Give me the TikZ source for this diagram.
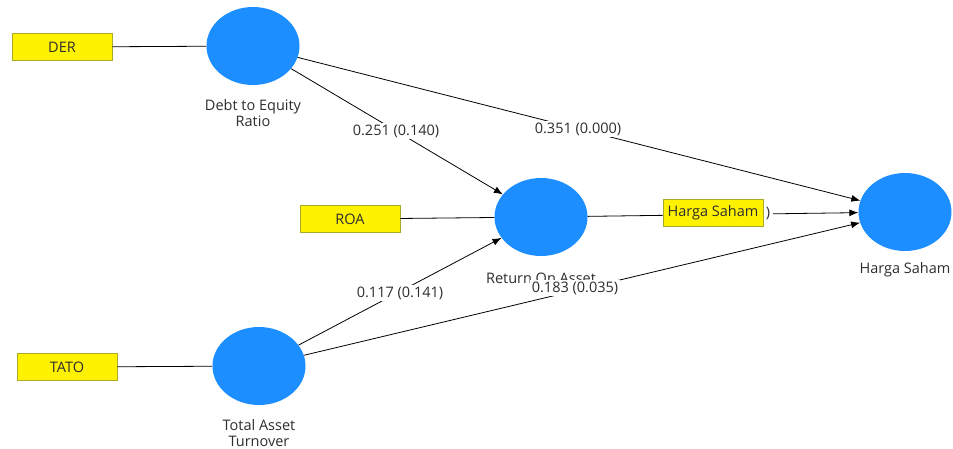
\documentclass[tikz,border=0pt]{standalone}
\usepackage{fontspec}
\setmainfont{Open Sans}
\usetikzlibrary{shapes.geometric,arrows.meta}
\definecolor{lvblue}{RGB}{28,142,255}
\definecolor{boxedge}{RGB}{170,170,40}
\definecolor{txt}{RGB}{45,45,45}
\tikzset{
  lv/.style={ellipse,fill=lvblue,draw=none,minimum width=93pt,minimum height=78pt,inner sep=0pt},
  ind/.style={rectangle,fill=yellow,draw=boxedge,line width=0.6pt,minimum width=100pt,minimum height=27pt,inner sep=0pt,font=\fontsize{14.5}{16}\selectfont,text=txt},
  captxt/.style={align=center,font=\fontsize{14.5}{15.5}\selectfont,text=txt,inner sep=1pt},
  coef/.style={fill=white,font=\fontsize{14.5}{16}\selectfont,text=txt,inner sep=1.5pt},
  arr/.style={-{Latex[length=9pt,width=7pt]},line width=0.8pt,black},
  lnk/.style={line width=0.8pt,black}
}
\begin{document}
\begin{tikzpicture}[x=1pt,y=-1pt]
\useasboundingbox (0,0) rectangle (953,448);
% latent variables
\node[lv] (der) at (253,46) {};
\node[lv] (roa) at (541,217) {};
\node[lv] (tato) at (259,366) {};
\node[lv] (hs) at (905,212) {};
% indicators
\node[ind] (derI) at (62,47) {DER};
\node[ind] (roaI) at (350,219) {ROA};
\node[ind] (tatoI) at (67,367) {TATO};
% indicator links
\draw[lnk] (derI) -- (der);
\draw[lnk] (roaI) -- (roa);
\draw[lnk] (tatoI) -- (tato);
% structural paths
\draw[arr] (der) -- (roa);
\draw[arr] (der) -- (hs);
\draw[arr] (tato) -- (roa);
\draw[arr] (tato) -- (hs);
\draw[arr] (roa) -- (hs);
% captions
\node[captxt] (derC) at (253,113) {Debt to Equity\\Ratio};
\node[captxt] (roaC) at (541,278) {Return On Asset};
\node[captxt] (tatoC) at (259,433) {Total Asset\\Turnover};
\node[captxt] (hsC) at (905,270) {Harga Saham};
% coefficients
\node[coef] (c1) at (396,131) {0.251 (0.140)};
\node[coef] (c2) at (578,129) {0.351 (0.000)};
\node[coef] (c3) at (400,293) {0.117 (0.141)};
\node[coef] (c4) at (575,288) {0.183 (0.035)};
\node[coef,inner sep=1pt,minimum width=9pt] (c5) at (768,213) {)};
% overlapping indicator box
\node[ind] (hsI) at (713,213) {Harga Saham};
\end{tikzpicture}
\end{document}
